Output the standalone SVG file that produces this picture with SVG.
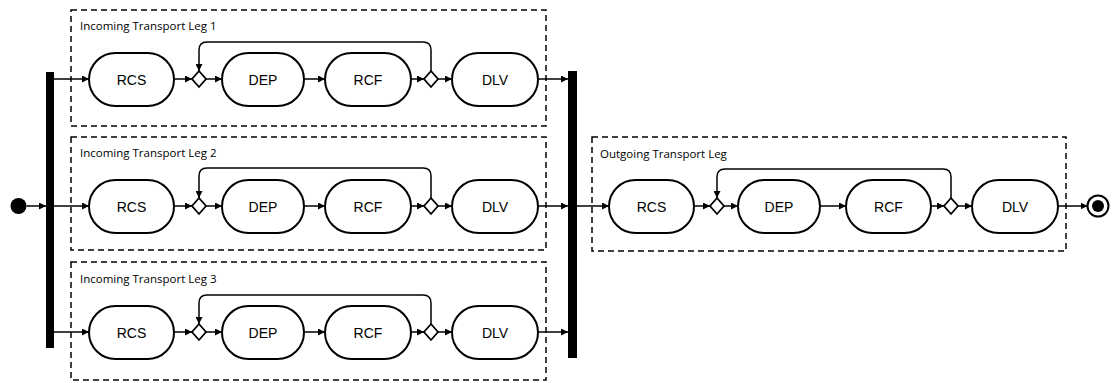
<svg xmlns="http://www.w3.org/2000/svg" width="1112" height="383" viewBox="0 0 1112 383">
<defs>
<style>
.box{fill:none;stroke:#000;stroke-width:1.5;stroke-dasharray:6,4}
.act{fill:#fff;stroke:#000;stroke-width:2}
.dia{fill:#fff;stroke:#000;stroke-width:1.8}
.lbl{font-family:"Liberation Sans",Arial,sans-serif;font-size:14px;text-anchor:middle;dominant-baseline:central}
.leg{font-family:"Open Sans","Noto Sans",sans-serif;font-size:11.5px}
.c{fill:none;stroke:#000;stroke-width:1.5;marker-end:url(#ah)}
</style>
<marker id="ah" viewBox="0 0 10 10" refX="10" refY="5" markerWidth="7" markerHeight="7" markerUnits="userSpaceOnUse" orient="auto"><path d="M0,0 L10,5 L0,10 z" fill="#000"/></marker>
</defs>
<g id="containers">
<rect class="box" x="71" y="10" width="475" height="116"/>
<text class="leg" x="80" y="30">Incoming Transport Leg 1</text>
<rect class="box" x="71" y="137" width="475" height="113"/>
<text class="leg" x="80" y="157">Incoming Transport Leg 2</text>
<rect class="box" x="71" y="262" width="475" height="118"/>
<text class="leg" x="80" y="283">Incoming Transport Leg 3</text>
<rect class="box" x="592" y="137" width="474" height="114"/>
<text class="leg" x="600" y="158">Outgoing Transport Leg</text>
</g>
<g id="start"><circle cx="18.5" cy="206" r="8" fill="#000"/></g>
<g id="fork"><rect x="46" y="72" width="8" height="276" fill="#000"/></g>
<g id="join"><rect x="568" y="71" width="9" height="287" fill="#000"/></g>
<g id="end"><circle cx="1098" cy="206" r="10.5" fill="#fff" stroke="#000" stroke-width="2"/><circle cx="1098" cy="206" r="6" fill="#000"/></g>

<g id="leg1">
<g id="l1-rcs"><rect class="act" x="89" y="53" width="85" height="53" rx="26.5"/><text class="lbl" x="131.5" y="79.5">RCS</text></g>
<g id="l1-d1"><path class="dia" d="M199,71 L206,79 L199,87 L192,79 z"/></g>
<g id="l1-dep"><rect class="act" x="222" y="53" width="82" height="53" rx="26.5"/><text class="lbl" x="263" y="79.5">DEP</text></g>
<g id="l1-rcf"><rect class="act" x="325" y="53" width="86" height="53" rx="26.5"/><text class="lbl" x="368" y="79.5">RCF</text></g>
<g id="l1-d2"><path class="dia" d="M431,71 L438,79 L431,87 L424,79 z"/></g>
<g id="l1-dlv"><rect class="act" x="452" y="53" width="86" height="53" rx="26.5"/><text class="lbl" x="495" y="79.5">DLV</text></g>
</g>
<g id="leg2">
<g id="l2-rcs"><rect class="act" x="89" y="180" width="85" height="53" rx="26.5"/><text class="lbl" x="131.5" y="206.5">RCS</text></g>
<g id="l2-d1"><path class="dia" d="M199,198 L206,206 L199,214 L192,206 z"/></g>
<g id="l2-dep"><rect class="act" x="222" y="180" width="82" height="53" rx="26.5"/><text class="lbl" x="263" y="206.5">DEP</text></g>
<g id="l2-rcf"><rect class="act" x="325" y="180" width="86" height="53" rx="26.5"/><text class="lbl" x="368" y="206.5">RCF</text></g>
<g id="l2-d2"><path class="dia" d="M431,198 L438,206 L431,214 L424,206 z"/></g>
<g id="l2-dlv"><rect class="act" x="452" y="180" width="86" height="53" rx="26.5"/><text class="lbl" x="495" y="206.5">DLV</text></g>
</g>
<g id="leg3">
<g id="l3-rcs"><rect class="act" x="89" y="306" width="85" height="53" rx="26.5"/><text class="lbl" x="131.5" y="332.5">RCS</text></g>
<g id="l3-d1"><path class="dia" d="M199,324 L206,332 L199,340 L192,332 z"/></g>
<g id="l3-dep"><rect class="act" x="222" y="306" width="82" height="53" rx="26.5"/><text class="lbl" x="263" y="332.5">DEP</text></g>
<g id="l3-rcf"><rect class="act" x="325" y="306" width="86" height="53" rx="26.5"/><text class="lbl" x="368" y="332.5">RCF</text></g>
<g id="l3-d2"><path class="dia" d="M431,324 L438,332 L431,340 L424,332 z"/></g>
<g id="l3-dlv"><rect class="act" x="452" y="306" width="86" height="53" rx="26.5"/><text class="lbl" x="495" y="332.5">DLV</text></g>
</g>
<g id="legout">
<g id="o-rcs"><rect class="act" x="609" y="180" width="85" height="53" rx="26.5"/><text class="lbl" x="651.5" y="206.5">RCS</text></g>
<g id="o-d1"><path class="dia" d="M717,198 L724,206 L717,214 L710,206 z"/></g>
<g id="o-dep"><rect class="act" x="738" y="180" width="82" height="53" rx="26.5"/><text class="lbl" x="779" y="206.5">DEP</text></g>
<g id="o-rcf"><rect class="act" x="846" y="180" width="85" height="53" rx="26.5"/><text class="lbl" x="888.5" y="206.5">RCF</text></g>
<g id="o-d2"><path class="dia" d="M951,198 L958,206 L951,214 L944,206 z"/></g>
<g id="o-dlv"><rect class="act" x="972" y="180" width="86" height="53" rx="26.5"/><text class="lbl" x="1015" y="206.5">DLV</text></g>
</g>

<g id="connectors">
<path class="c" d="M26.5,206 H46"/>
<path class="c" d="M54,79 H89"/>
<path class="c" d="M54,206 H89"/>
<path class="c" d="M54,332 H89"/>
<path class="c" d="M174,79 H192"/><path class="c" d="M206,79 H222"/><path class="c" d="M304,79 H325"/><path class="c" d="M411,79 H424"/><path class="c" d="M438,79 H452"/><path class="c" d="M538,79 H568"/>
<path class="c" d="M431,71 V50 Q431,42 423,42 H207 Q199,42 199,50 V71"/>
<path class="c" d="M174,206 H192"/><path class="c" d="M206,206 H222"/><path class="c" d="M304,206 H325"/><path class="c" d="M411,206 H424"/><path class="c" d="M438,206 H452"/><path class="c" d="M538,206 H568"/>
<path class="c" d="M431,198 V176 Q431,168 423,168 H207 Q199,168 199,176 V198"/>
<path class="c" d="M174,332 H192"/><path class="c" d="M206,332 H222"/><path class="c" d="M304,332 H325"/><path class="c" d="M411,332 H424"/><path class="c" d="M438,332 H452"/><path class="c" d="M538,332 H568"/>
<path class="c" d="M431,324 V303 Q431,295 423,295 H207 Q199,295 199,303 V324"/>
<path class="c" d="M577,206 H609"/>
<path class="c" d="M694,206 H710"/><path class="c" d="M724,206 H738"/><path class="c" d="M820,206 H846"/><path class="c" d="M931,206 H944"/><path class="c" d="M958,206 H972"/><path class="c" d="M1058,206 H1087.5"/>
<path class="c" d="M951,198 V177 Q951,169 943,169 H725 Q717,169 717,177 V198"/>
</g>
</svg>
